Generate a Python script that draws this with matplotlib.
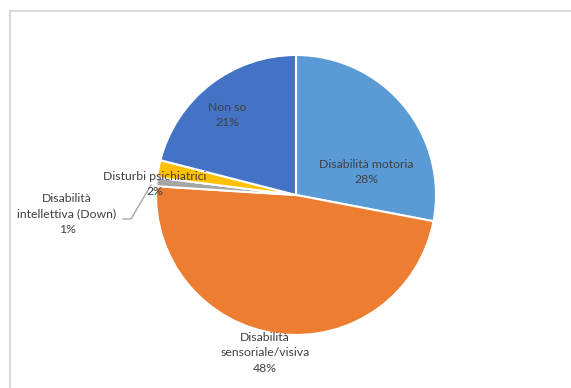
import matplotlib.pyplot as plt
from matplotlib.lines import Line2D

# quote per tipo di disabilità (%)
categorie = ['Disabilità motoria', 'Disabilità\nsensoriale/visiva',
             'Disabilità\nintellettiva (Down)', 'Disturbi psichiatrici', 'Non so']
valori = [28, 48, 1, 2, 21]
colori = ['#5B9BD5', '#ED7D31', '#A5A5A5', '#FFC000', '#4472C4']

W, H = 571, 388

plt.rcParams['font.family'] = ['Lato', 'DejaVu Sans']

fig = plt.figure(figsize=(W / 100, H / 100), dpi=100)
ax = fig.add_axes([0, 0, 1, 1])

# torta: parte da ore 12 in senso orario
ax.pie(valori, colors=colori, startangle=90, counterclock=False,
       center=(296, H - 195), radius=140, frame=True,
       wedgeprops=dict(edgecolor='white', linewidth=1.5))
ax.set_xlim(0, W)
ax.set_ylim(0, H)
ax.set_aspect('equal')
ax.axis('off')

# etichette (categoria + percentuale)
posizioni = [(366, 172), (265, 353), (67, 214), (155, 184), (227, 115)]
for nome, v, (x, y) in zip(categorie, valori, posizioni):
    ax.text(x, H - y, f'{nome}\n{v}%', ha='center', va='center',
            fontsize=8.8, color='#404040', linespacing=1.55)

# linea guida per la fetta più piccola
ax.plot([123, 131, 151], [H - 219, H - 219, H - 185], color='#A6A6A6', lw=1)

# cornice del grafico (sinistra e in alto)
fig.add_artist(Line2D([9.5 / W, 9.5 / W], [0, 1 - 10.5 / H],
                      transform=fig.transFigure, color='#D9D9D9', lw=1.5))
fig.add_artist(Line2D([9.5 / W, 1], [1 - 10.5 / H, 1 - 10.5 / H],
                      transform=fig.transFigure, color='#D9D9D9', lw=1.5))

fig.savefig('out.png', dpi=100)
